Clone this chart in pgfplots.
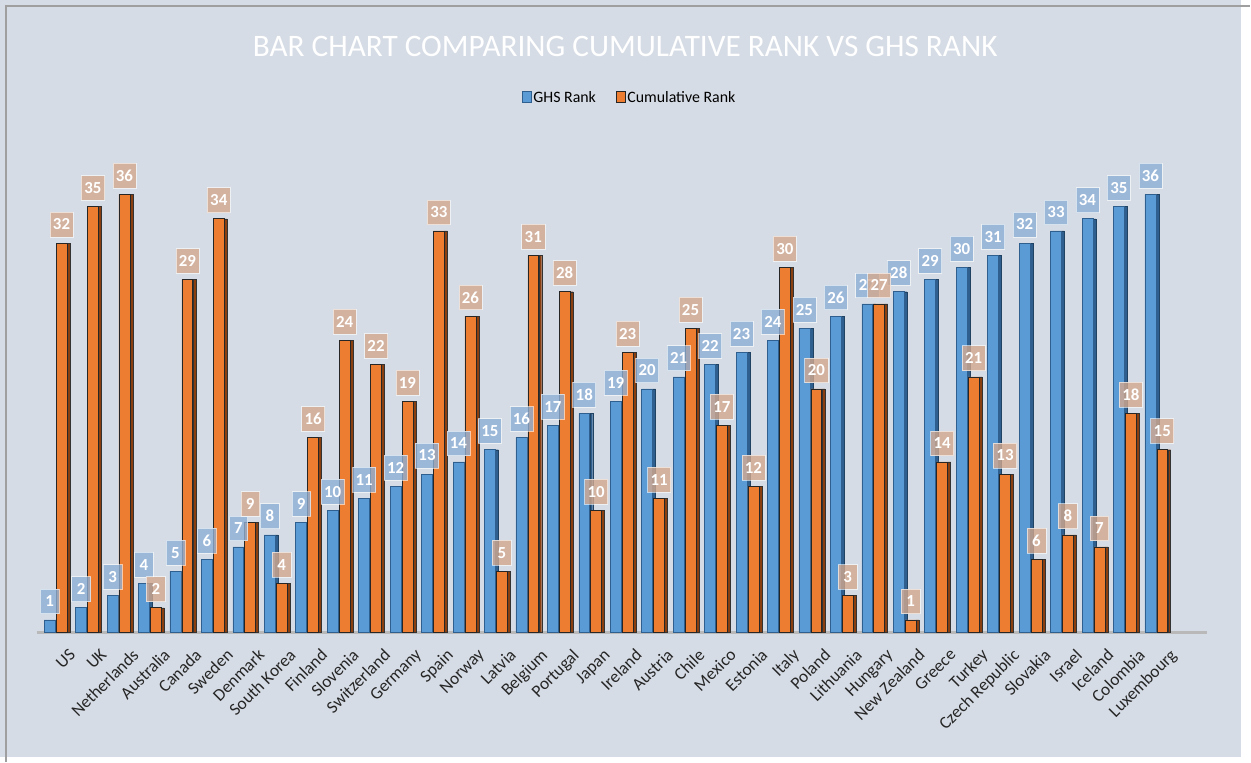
\documentclass[border=0pt]{standalone}
\usepackage{pgfplots}
\usepackage{pgfplotstable}
\pgfplotsset{compat=1.18}
\usepackage{fontspec}
\setmainfont{Carlito}
\definecolor{bg}{HTML}{D6DCE5}
\definecolor{ghs}{HTML}{5B9BD5}
\definecolor{ghsdark}{HTML}{2F5F8E}
\definecolor{cum}{HTML}{ED7D31}
\definecolor{cumdark}{HTML}{8A3F10}
\definecolor{ghslab}{HTML}{8DB0D6}
\definecolor{cumlab}{HTML}{D3A88E}
\pgfplotstableread{
x ghs cum
0 1 32
1 2 35
2 3 36
3 4 2
4 5 29
5 6 34
6 7 9
7 8 4
8 9 16
9 10 24
10 11 22
11 12 19
12 13 33
13 14 26
14 15 5
15 16 31
16 17 28
17 18 10
18 19 23
19 20 11
20 21 25
21 22 17
22 23 12
23 24 30
24 25 20
25 26 3
26 27 27
27 28 1
28 29 14
29 30 21
30 31 13
31 32 6
32 33 8
33 34 7
34 35 18
35 36 15
}\data
\begin{document}
\begin{tikzpicture}[x=1pt,y=1pt]
\fill[bg] (0,0) rectangle (1251,763);
\draw[gray!75, line width=1.5pt] (6,-5) -- (6,757) -- (1260,757);
\node[text=white, font=\fontsize{31.5}{36}\selectfont] at (630,716) {BAR CHART COMPARING CUMULATIVE RANK VS GHS RANK};
\begin{axis}[
  at={(37pt,126pt)}, anchor=south west,
  scale only axis, width=1179pt, height=490pt,
  xmin=-0.6, xmax=36.6, ymin=0, ymax=40,
  axis x line*=bottom, axis y line=none,
  x axis line style={draw=gray!55, line width=3pt, -},
  ytick=\empty,
  xtick={0,...,35},
  xticklabels={US,UK,Netherlands,Australia,Canada,Sweden,Denmark,South Korea,Finland,Slovenia,Switzerland,Germany,Spain,Norway,Latvia,Belgium,Portugal,Japan,Ireland,Austria,Chile,Mexico,Estonia,Italy,Poland,Lithuania,Hungary,New Zealand,Greece,Turkey,Czech Republic,Slovakia,Israel,Iceland,Colombia,Luxembourg},
  xtick style={draw=none},
  xticklabel style={rotate=45, anchor=north east, font=\fontsize{17.5}{17.5}\selectfont, text=black!85, inner sep=0pt, yshift=-17pt, xshift=1pt},
  /pgf/number format/assume math mode=true,
  ybar, 
  legend style={at={(0.5,1)}, anchor=center, yshift=49pt, xshift=8pt, draw=none, fill=none, legend columns=2, font=\fontsize{16}{16}\selectfont, /tikz/every even column/.append style={column sep=18pt}},
  legend image code/.code={\draw[#1] (0pt,-5pt) rectangle (9pt,6pt);},
  clip=false,
]
% blue side
\addplot[ybar, bar width=3pt, bar shift=1pt, fill=ghsdark, draw=ghsdark!70!black, forget plot] table[x=x,y=ghs]{\data};
% blue front
\addplot[ybar, bar width=11pt, bar shift=-6pt, fill=ghs, draw=ghsdark, line width=0.6pt,
  nodes near coords,
  every node near coord/.append style={font=\fontsize{17}{17}\selectfont\bfseries, text=white, fill=ghslab, fill opacity=0.8, text opacity=1, draw=white, draw opacity=0.6, inner sep=3pt, minimum height=25pt, minimum width=19pt, anchor=south, yshift=6pt}
  ] table[x=x,y=ghs]{\data};
\addlegendentry{GHS Rank}
% orange side
\addplot[ybar, bar width=3pt, bar shift=13pt, fill=cumdark, draw=black!80, forget plot] table[x=x,y=cum]{\data};
% orange front
\addplot[ybar, bar width=11pt, bar shift=6pt, fill=cum, draw=black!85, line width=0.6pt,
  nodes near coords,
  every node near coord/.append style={font=\fontsize{17}{17}\selectfont\bfseries, text=white, fill=cumlab, fill opacity=0.8, text opacity=1, draw=white, draw opacity=0.6, inner sep=3pt, minimum height=25pt, minimum width=19pt, anchor=south, yshift=6pt}
  ] table[x=x,y=cum]{\data};
\addlegendentry{Cumulative Rank}
\end{axis}
\end{tikzpicture}
\end{document}
